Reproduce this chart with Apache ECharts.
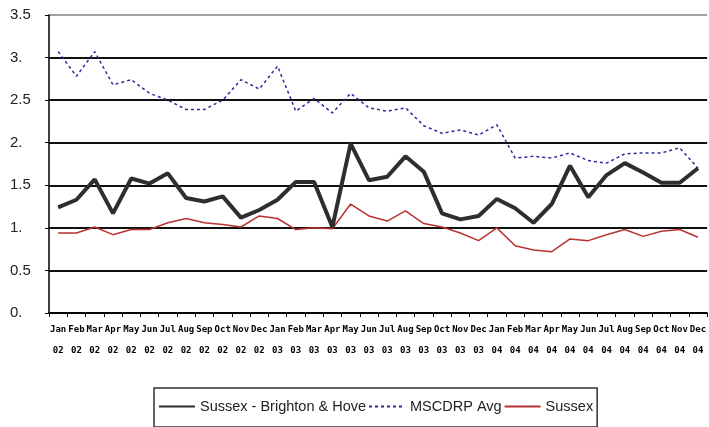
<!DOCTYPE html>
<html><head><meta charset="utf-8">
<script src="https://cdn.jsdelivr.net/npm/echarts@6/dist/echarts.min.js"></script>
<style>html,body{margin:0;padding:0;background:#fff}#c{width:709px;height:427px}</style>
</head><body><div id="c"></div>
<script>
const months = ['Jan','Feb','Mar','Apr','May','Jun','Jul','Aug','Sep','Oct','Nov','Dec'];
const years = ['02','03','04'];
const categories = [];
years.forEach(y => months.forEach(m => categories.push(m + ' ' + y)));

const brightonHove = [1.24,1.33,1.57,1.17,1.58,1.52,1.64,1.35,1.31,1.37,1.12,1.21,
                      1.33,1.54,1.54,1.01,1.99,1.56,1.60,1.84,1.66,1.17,1.10,1.14,
                      1.34,1.23,1.06,1.28,1.73,1.36,1.62,1.76,1.65,1.53,1.53,1.70];
const mscdrpAvg = [3.07,2.78,3.07,2.68,2.74,2.58,2.50,2.39,2.39,2.50,2.74,2.63,
                   2.90,2.37,2.52,2.35,2.58,2.41,2.37,2.41,2.20,2.11,2.15,2.09,
                   2.21,1.82,1.84,1.82,1.88,1.79,1.76,1.87,1.88,1.88,1.94,1.70];
const sussex = [0.94,0.94,1.01,0.92,0.98,0.98,1.06,1.11,1.06,1.04,1.01,1.14,
                1.11,0.98,1.00,0.99,1.28,1.14,1.08,1.20,1.05,1.01,0.94,0.85,
                1.00,0.79,0.74,0.72,0.87,0.85,0.92,0.98,0.90,0.96,0.98,0.89];
const yTicks = [0,0.5,1,1.5,2,2.5,3,3.5];

const chart = echarts.init(document.getElementById('c'), null, {renderer:'canvas'});
const sans = "'Liberation Sans Narrow','Arial Narrow','Liberation Sans',Arial,sans-serif";
chart.setOption({
  animation:false,
  backgroundColor:'#fff',
  grid:{left:49, top:15, width:665, height:298, containLabel:false},
  legend:{
    left:154, top:388,
    padding:[11,4,13,4], itemGap:2,
    itemWidth:36, itemHeight:6,
    borderColor:'#333', borderWidth:1.5, backgroundColor:'#fff',
    itemStyle:{opacity:0},
    textStyle:{fontFamily:sans, fontSize:14.5, color:'#222'},
    data:['Sussex - Brighton & Hove','MSCDRP Avg','Sussex']
  },
  xAxis:{
    type:'category', data:categories, boundaryGap:true,
    axisLine:{lineStyle:{color:'#000', width:1.5}},
    axisTick:{show:true, length:4, lineStyle:{color:'#000'}},
    axisLabel:{interval:0, margin:6, fontSize:9, fontWeight:'bold', lineHeight:21,
      fontFamily:"'DejaVu Sans Mono',monospace", color:'#000',
      formatter:v => v.replace(' ', '\n')},
    splitLine:{show:false}
  },
  yAxis:{
    type:'value', min:0, max:3.5, interval:0.5,
    axisLine:{show:true, lineStyle:{color:'#000', width:1.5}},
    axisTick:{show:true, length:4, lineStyle:{color:'#000'}},
    axisLabel:{align:'left', margin:39, fontSize:15, fontFamily:sans, color:'#222',
      formatter:v => (yTicks.includes(v) && Number.isInteger(v)) ? v + '.' : String(v)},
    splitLine:{show:true, lineStyle:{color:['#111','#111','#111','#111','#111','#111','#111','#a0a0a0'], width:1.8}}
  },
  series:[
    {name:'MSCDRP Avg', type:'line', data:mscdrpAvg, symbol:'none', z:2,
     lineStyle:{color:'#2a2a9c', width:1.5, type:[3,3]}, itemStyle:{color:'#2a2a9c'}},
    {name:'Sussex', type:'line', data:sussex, symbol:'none', z:3,
     lineStyle:{color:'#b83232', width:1.5}, itemStyle:{color:'#b83232'}},
    {name:'Sussex - Brighton & Hove', type:'line', data:brightonHove, symbol:'none', z:4,
     lineStyle:{color:'#2e2e2e', width:4}, itemStyle:{color:'#2e2e2e'}}
  ]
});
</script></body></html>
